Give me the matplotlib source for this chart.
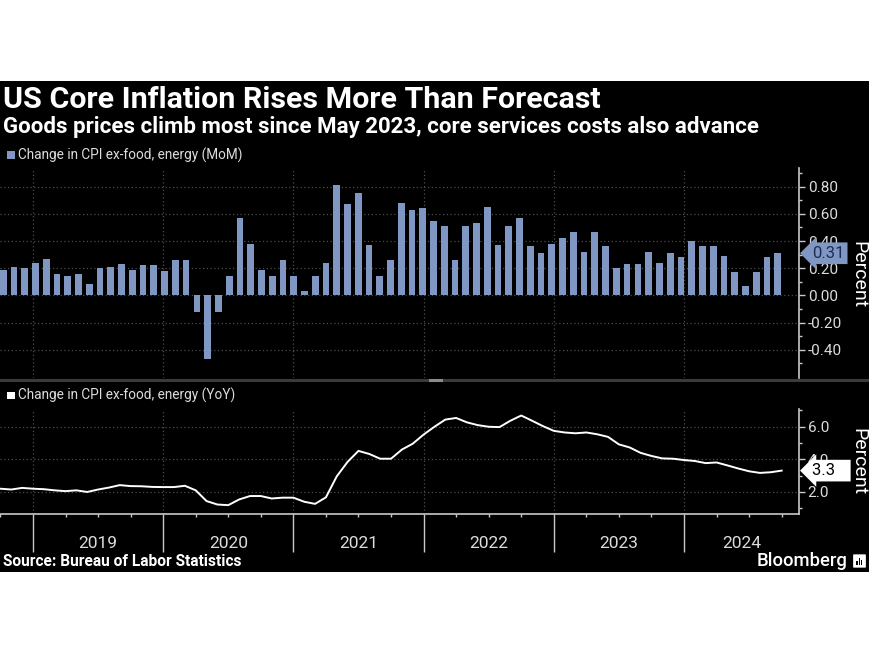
import numpy as np
import matplotlib
matplotlib.use('Agg')
import matplotlib.pyplot as plt
from matplotlib import font_manager
from matplotlib.patches import Rectangle, FancyBboxPatch
from matplotlib.lines import Line2D
from matplotlib.ticker import FixedLocator, FuncFormatter

# monthly core CPI, Sep 2018 .. Sep 2024
mom = [0.19, 0.21, 0.20, 0.24, 0.27, 0.16, 0.14, 0.16, 0.085, 0.20,
       0.21, 0.23, 0.19, 0.22, 0.22, 0.18, 0.26, 0.26, -0.12, -0.47,
       -0.12, 0.14, 0.57, 0.38, 0.19, 0.14, 0.26, 0.14, 0.034, 0.14,
       0.24, 0.81, 0.67, 0.75, 0.37, 0.14, 0.26, 0.68, 0.63, 0.64,
       0.55, 0.51, 0.26, 0.51, 0.53, 0.65, 0.37, 0.51, 0.57, 0.36,
       0.31, 0.38, 0.42, 0.47, 0.32, 0.47, 0.36, 0.20, 0.23, 0.23,
       0.32, 0.24, 0.31, 0.28, 0.40, 0.36, 0.36, 0.29, 0.17, 0.066,
       0.17, 0.28, 0.31]
yoy = [2.2, 2.15, 2.25, 2.2, 2.17, 2.1, 2.05, 2.1, 2.0, 2.15,
       2.27, 2.42, 2.36, 2.35, 2.31, 2.3, 2.3, 2.38, 2.1, 1.44,
       1.23, 1.19, 1.54, 1.75, 1.75, 1.6, 1.65, 1.65, 1.4, 1.27,
       1.67, 2.96, 3.85, 4.52, 4.33, 4.04, 4.04, 4.6, 4.96, 5.52,
       6.0, 6.44, 6.54, 6.27, 6.1, 6.0, 5.98, 6.37, 6.69, 6.37,
       6.04, 5.75, 5.65, 5.6, 5.65, 5.54, 5.38, 4.92, 4.73, 4.4,
       4.21, 4.06, 4.04, 3.96, 3.9, 3.77, 3.81, 3.63, 3.44, 3.27,
       3.17, 3.21, 3.31]
years = ['2019', '2020', '2021', '2022', '2023', '2024']

mom_ticks = [-0.4, -0.2, 0.0, 0.2, 0.4, 0.6, 0.8]
yoy_ticks = [2.0, 4.0, 6.0]

BAR = '#7f97c2'
GRID = '#4d4d4d'
AXC = '#c8c8c8'
TXT = '#dcdcdc'

names = {f.name for f in font_manager.fontManager.ttflist}
FONT = 'Liberation Sans Narrow' if 'Liberation Sans Narrow' in names else 'Roboto'
plt.rcParams['font.family'] = [FONT, 'DejaVu Sans']

W, H = 870, 653


def fx(px):
    return px / W


def fy(py):
    return 1 - py / H


fig = plt.figure(figsize=(8.7, 6.53), dpi=100, facecolor='white')
fig.patches.append(Rectangle((0, fy(572)), 1, fy(81) - fy(572), transform=fig.transFigure,
                             facecolor='black', edgecolor='none', zorder=-5))

# x axis in months from Jan 2019; points sit on month ends
n = len(mom)
t_line = np.arange(n) - 3
t_bar = np.linspace(-2.74, 68.64, n)  # bars spaced evenly, a bit tighter than the calendar
xlim = (-3.04, 70.63)
year_pos = np.arange(len(years)) * 12
quarter_pos = np.arange(-3, 72, 3)

ax1 = fig.add_axes([0, fy(378.3), fx(799.3), fy(168.3) - fy(378.3)])
ax2 = fig.add_axes([0, fy(514.3), fx(799.3), fy(409) - fy(514.3)])

for ax in (ax1, ax2):
    ax.set_facecolor('black')
    ax.set_xlim(*xlim)
    for s in ('top', 'left', 'bottom'):
        ax.spines[s].set_visible(False)
    ax.spines['right'].set_color(AXC)
    ax.spines['right'].set_linewidth(1.2)
    ax.yaxis.tick_right()
    ax.tick_params(axis='y', which='major', colors=AXC, length=4, width=1,
                   labelcolor=TXT, labelsize=11, pad=2)
    ax.tick_params(axis='y', which='minor', colors=AXC, length=2.5, width=1)
    ax.grid(True, which='major', color=GRID, linestyle=(0, (1, 2)), linewidth=0.9)
    ax.set_axisbelow(True)

# top: MoM bars
ax1.bar(t_bar, mom, width=0.62, color=BAR, zorder=3)
ax1.set_ylim(-0.61, 0.935)
ax1.yaxis.set_major_locator(FixedLocator(mom_ticks))
ax1.yaxis.set_minor_locator(FixedLocator(np.arange(-0.5, 0.95, 0.2)))
ax1.yaxis.set_major_formatter(FuncFormatter(lambda v, p: f'{v:.2f}'))
ax1.xaxis.set_major_locator(FixedLocator(year_pos))
ax1.tick_params(axis='x', length=0, labelbottom=False)

# bottom: YoY line
ax2.plot(t_line, yoy, color='white', lw=1.4, zorder=3)
ax2.set_ylim(0.63, 7.09)
ax2.yaxis.set_major_locator(FixedLocator(yoy_ticks))
ax2.yaxis.set_minor_locator(FixedLocator([1, 3, 5, 7]))
ax2.yaxis.set_major_formatter(FuncFormatter(lambda v, p: f'{v:.1f}'))
ax2.spines['bottom'].set_visible(True)
ax2.spines['bottom'].set_color(AXC)
ax2.spines['bottom'].set_linewidth(1.2)
ax2.xaxis.set_major_locator(FixedLocator(year_pos))
ax2.xaxis.set_minor_locator(FixedLocator(quarter_pos))
ax2.tick_params(axis='x', which='major', colors=AXC, length=27, width=1, labelbottom=False)
ax2.tick_params(axis='x', which='minor', colors=AXC, length=2.5, width=1)

for i, yr in enumerate(years):
    a = max(year_pos[i], xlim[0])
    b = min(year_pos[i] + 12, xlim[1])
    ax2.text((a + b) / 2, -0.28, yr, transform=ax2.get_xaxis_transform(),
             ha='center', va='center', color=TXT, fontsize=12.5)

# last-value tags
ax1.annotate(f'{mom[-1]:.2f}', xy=(1, mom[-1]), xycoords=ax1.get_yaxis_transform(),
             xytext=(9, 0), textcoords='offset points', ha='left', va='center',
             color='#1d2d52', fontsize=12,
             bbox=dict(boxstyle='larrow,pad=0.2', fc=BAR, ec='none'), zorder=5)
ax2.annotate(f'{yoy[-1]:.1f}   ', xy=(1, yoy[-1]), xycoords=ax2.get_yaxis_transform(),
             xytext=(9, 0), textcoords='offset points', ha='left', va='center',
             color='black', fontsize=12,
             bbox=dict(boxstyle='larrow,pad=0.2', fc='white', ec='none'), zorder=5)

fig.text(fx(858), fy(275), 'Percent', rotation=270, ha='center', va='center',
         color='white', fontsize=14)
fig.text(fx(858), fy(462), 'Percent', rotation=270, ha='center', va='center',
         color='white', fontsize=14)

# panel divider
fig.add_artist(Line2D([0, 1], [fy(379.5)] * 2, color='#3a3a3a', lw=2.2))
fig.add_artist(Line2D([fx(430), fx(441)], [fy(379.5)] * 2, color='#8a8a8a', lw=2.2))

# titles and legends
fig.text(fx(3), fy(100), 'US Core Inflation Rises More Than Forecast', color='white',
         fontsize=21.9, fontweight='bold', va='center', ha='left')
fig.text(fx(3), fy(127), 'Goods prices climb most since May 2023, core services costs also advance',
         color='white', fontsize=16, fontweight='bold', va='center', ha='left')

fig.patches.append(Rectangle((fx(7), fy(158.5)), fx(8), 7.5 / H, transform=fig.transFigure,
                             facecolor=BAR, edgecolor='none'))
fig.text(fx(18), fy(155), 'Change in CPI ex-food, energy (MoM)', color=TXT, fontsize=9.8,
         va='center', ha='left')
fig.patches.append(Rectangle((fx(7), fy(399)), fx(8), 7.5 / H, transform=fig.transFigure,
                             facecolor='white', edgecolor='none'))
fig.text(fx(18), fy(395.5), 'Change in CPI ex-food, energy (YoY)', color=TXT, fontsize=9.8,
         va='center', ha='left')

fig.text(fx(3), fy(562), 'Source: Bureau of Labor Statistics', color='white', fontsize=11.2,
         fontweight='bold', va='center', ha='left')
fig.text(fx(848), fy(561), 'Bloomberg', color='white', fontsize=13.3, fontweight='medium',
         va='center', ha='right')
fig.patches.append(FancyBboxPatch((fx(854), fy(567)), fx(11), 12 / H, transform=fig.transFigure,
                                  boxstyle='round,pad=0.001', facecolor='white', edgecolor='none'))
for k, h in enumerate([4, 7, 5]):
    fig.patches.append(Rectangle((fx(856.5 + 2.3 * k), fy(564.5)), fx(1.2), h / H,
                                 transform=fig.transFigure, facecolor='black', edgecolor='none'))

fig.savefig('out.png', dpi=100, facecolor='white')
